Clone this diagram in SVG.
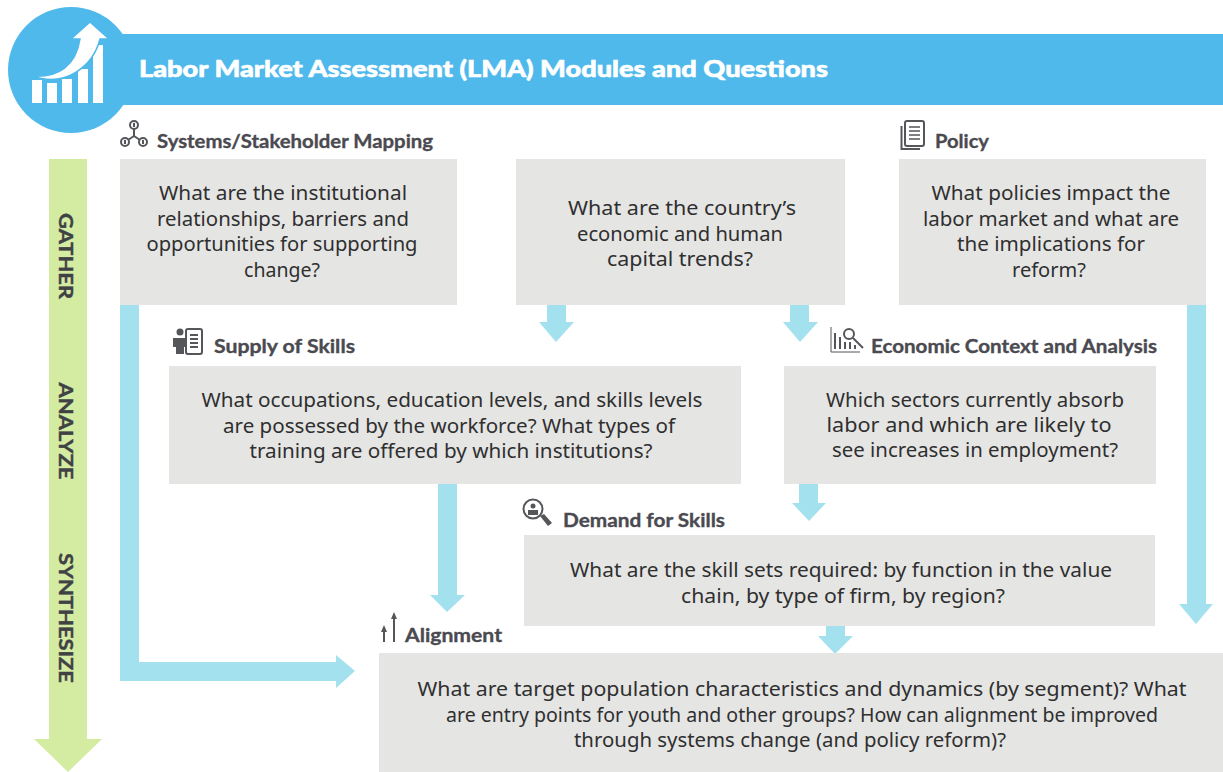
<svg xmlns="http://www.w3.org/2000/svg" width="1223" height="772" viewBox="0 0 1223 772">
<style>
.box{fill:#e5e5e4}
.q{font-family:"Noto Sans","Liberation Sans",sans-serif;font-size:20px;fill:#2f2f2f;text-anchor:middle}
.h{font-family:Lato,"Liberation Sans",sans-serif;font-size:19px;font-weight:700;fill:#4a4a50;stroke:#4a4a50;stroke-width:.35px}
.v{font-family:Lato,"Liberation Sans",sans-serif;font-size:19px;font-weight:700;fill:#3f4145;stroke:#3f4145;stroke-width:.4px;text-anchor:middle}
.t{font-family:Lato,"Liberation Sans",sans-serif;font-size:23px;font-weight:900;fill:#fff;stroke:#fff;stroke-width:.6px}
.c{fill:#a4e1ef}
.ic{fill:#55565a}
.il{fill:none;stroke:#55565a;stroke-width:2}
</style>
<rect width="1223" height="772" fill="#fff"/>
<g id="header">
<rect x="100" y="34" width="1123" height="71" fill="#50b9ec"/>
<circle cx="71" cy="70" r="63" fill="#50b9ec"/>
<g fill="#fff">
<rect x="32" y="80" width="10" height="23"/><rect x="47" y="83" width="10" height="20"/><rect x="62" y="79" width="10" height="24"/><rect x="78" y="69" width="10" height="34"/><rect x="93" y="45" width="10" height="58"/>
<path d="M32 76C58 78 76 66 80 39L71 39 90 22 109 39 100 39C93 66 66 88 32 76Z" stroke="#50b9ec" stroke-width="1.500"/>
</g>
<text class="t" x="139" y="77" textLength="689" lengthAdjust="spacingAndGlyphs">Labor Market Assessment (LMA) Modules and Questions</text>
</g>
<g id="connectors">
<path class="c" d="M120 305H139V662H336V655L355 671 336 688V681H120Z"/>
<path class="c" d="M547 305H566V322H574L556 342 539 322H547Z"/>
<path class="c" d="M790 305H809V322H818L800 342 783 322H790Z"/>
<path class="c" d="M1187 305H1206V604H1213L1196 624 1179 604H1187Z"/>
<path class="c" d="M438 484H457V595H465L447 612 430 595H438Z"/>
<path class="c" d="M799 484H818V503H826L809 521 792 503H799Z"/>
<path class="c" d="M826 626H845V636H853L835 654 818 636H826Z"/>
</g>
<g id="stages">
<path d="M49 159H87V739H102L68 772 34 739H49Z" fill="#d3eca2"/>
<g class="v">
<text transform="translate(59 256) rotate(90)" textLength="86" lengthAdjust="spacingAndGlyphs">GATHER</text>
<text transform="translate(59 431) rotate(90)" textLength="97" lengthAdjust="spacingAndGlyphs">ANALYZE</text>
<text transform="translate(59 618) rotate(90)" textLength="130" lengthAdjust="spacingAndGlyphs">SYNTHESIZE</text>
</g>
</g>
<g id="systems-mapping">
<rect class="box" x="120" y="159" width="337" height="146"/>
<g class="il" stroke-width="2.500"><circle cx="134" cy="125" r="4"/><circle cx="125" cy="142" r="4"/><circle cx="143" cy="142" r="4"/><path d="M134 129V136M134 136L128 140M134 136L140 140M125 140V144M143 140V144M134 123V127"/></g>
<text class="h" x="157" y="148" textLength="276" lengthAdjust="spacingAndGlyphs">Systems/Stakeholder Mapping</text>
<text class="q" x="283" y="200" textLength="248" lengthAdjust="spacingAndGlyphs">What are the institutional</text>
<text class="q" x="283" y="226" textLength="252" lengthAdjust="spacingAndGlyphs">relationships, barriers and</text>
<text class="q" x="282" y="251" textLength="271" lengthAdjust="spacingAndGlyphs">opportunities for supporting</text>
<text class="q" x="282" y="277" textLength="76" lengthAdjust="spacingAndGlyphs">change?</text>
</g>
<g id="economic-trends">
<rect class="box" x="516" y="159" width="329" height="146"/>
<text class="q" x="682" y="215" textLength="228" lengthAdjust="spacingAndGlyphs">What are  the country’s</text>
<text class="q" x="680" y="241" textLength="206" lengthAdjust="spacingAndGlyphs">economic and human</text>
<text class="q" x="680" y="266" textLength="146" lengthAdjust="spacingAndGlyphs">capital trends?</text>
</g>
<g id="policy">
<rect class="box" x="899" y="159" width="307" height="146"/>
<g class="il"><rect x="905" y="121" width="19" height="25" rx="2" fill="#fff"/><path d="M901.500 126V149H920" /><path d="M909 127H920M909 131H920M909 135H920M909 139H920" stroke-width="1.500"/></g>
<text class="h" x="935" y="148" textLength="54" lengthAdjust="spacingAndGlyphs">Policy</text>
<text class="q" x="1051" y="200" textLength="239" lengthAdjust="spacingAndGlyphs">What policies  impact the</text>
<text class="q" x="1051" y="226" textLength="256" lengthAdjust="spacingAndGlyphs">labor market and what are</text>
<text class="q" x="1051" y="251" textLength="188" lengthAdjust="spacingAndGlyphs">the implications  for</text>
<text class="q" x="1049" y="277" textLength="74" lengthAdjust="spacingAndGlyphs">reform?</text>
</g>
<g id="supply-of-skills">
<rect class="box" x="169" y="366" width="572" height="118"/>
<g class="ic"><circle cx="180" cy="332" r="3.500"/><path d="M173 338H187V347H184V354H176V347H173Z"/></g>
<g class="il"><rect x="186" y="329" width="16" height="25" rx="2" fill="#fff"/><path d="M190 335H198M190 339H198M190 343H198M190 347H198" stroke-width="1.800"/></g>
<text class="h" x="214" y="353" textLength="141" lengthAdjust="spacingAndGlyphs">Supply of Skills</text>
<text class="q" x="452" y="407" textLength="501" lengthAdjust="spacingAndGlyphs">What occupations, education levels, and skills levels</text>
<text class="q" x="449" y="433" textLength="452" lengthAdjust="spacingAndGlyphs">are possessed by the workforce? What types of</text>
<text class="q" x="451" y="458" textLength="403" lengthAdjust="spacingAndGlyphs">training are offered by which institutions?</text>
</g>
<g id="economic-context">
<rect class="box" x="784" y="366" width="372" height="118"/>
<g class="il" stroke-width="1.500"><path d="M831 327V352H860" stroke-width="1"/><path d="M835 349V333M840 349V337M845 349V342M850 349V342M855 349V345"/><circle cx="849" cy="334" r="5" fill="#fff"/><path d="M853 338L863 348"/></g>
<text class="h" x="871" y="353" textLength="286" lengthAdjust="spacingAndGlyphs">Economic Context and Analysis</text>
<text class="q" x="975" y="407" textLength="298" lengthAdjust="spacingAndGlyphs">Which sectors currently absorb</text>
<text class="q" x="969" y="432" textLength="285" lengthAdjust="spacingAndGlyphs">labor and which are likely to</text>
<text class="q" x="975" y="457" textLength="286" lengthAdjust="spacingAndGlyphs">see increases in employment?</text>
</g>
<g id="demand-for-skills">
<rect class="box" x="524" y="535" width="631" height="91"/>
<g class="il"><circle cx="533" cy="509" r="9.500"/></g>
<g class="ic"><circle cx="533" cy="506" r="2.500"/><path d="M528 515V510H538V515Z"/><path d="M540 516L544 514 552 523 548 526Z"/></g>
<text class="h" x="563" y="527" textLength="162" lengthAdjust="spacingAndGlyphs">Demand for Skills</text>
<text class="q" x="841" y="577" textLength="542" lengthAdjust="spacingAndGlyphs">What are the skill sets required: by function in the value</text>
<text class="q" x="843" y="603" textLength="324" lengthAdjust="spacingAndGlyphs">chain, by type of firm, by region?</text>
</g>
<g id="alignment">
<rect class="box" x="379" y="653" width="844" height="119"/>
<g class="ic"><path d="M384 642V631M394 642V617" stroke="#55565a" stroke-width="2"/><path d="M381 632L384 625 387 632ZM391 619L394 612 397 619Z"/></g>
<text class="h" x="405" y="642" textLength="97" lengthAdjust="spacingAndGlyphs">Alignment</text>
<text class="q" x="802" y="696" textLength="769" lengthAdjust="spacingAndGlyphs">What are target population characteristics and dynamics (by segment)? What</text>
<text class="q" x="802" y="722" textLength="712" lengthAdjust="spacingAndGlyphs">are entry points for youth and other groups? How can alignment be improved</text>
<text class="q" x="790" y="747" textLength="432" lengthAdjust="spacingAndGlyphs">through systems change (and policy reform)?</text>
</g>
</svg>
